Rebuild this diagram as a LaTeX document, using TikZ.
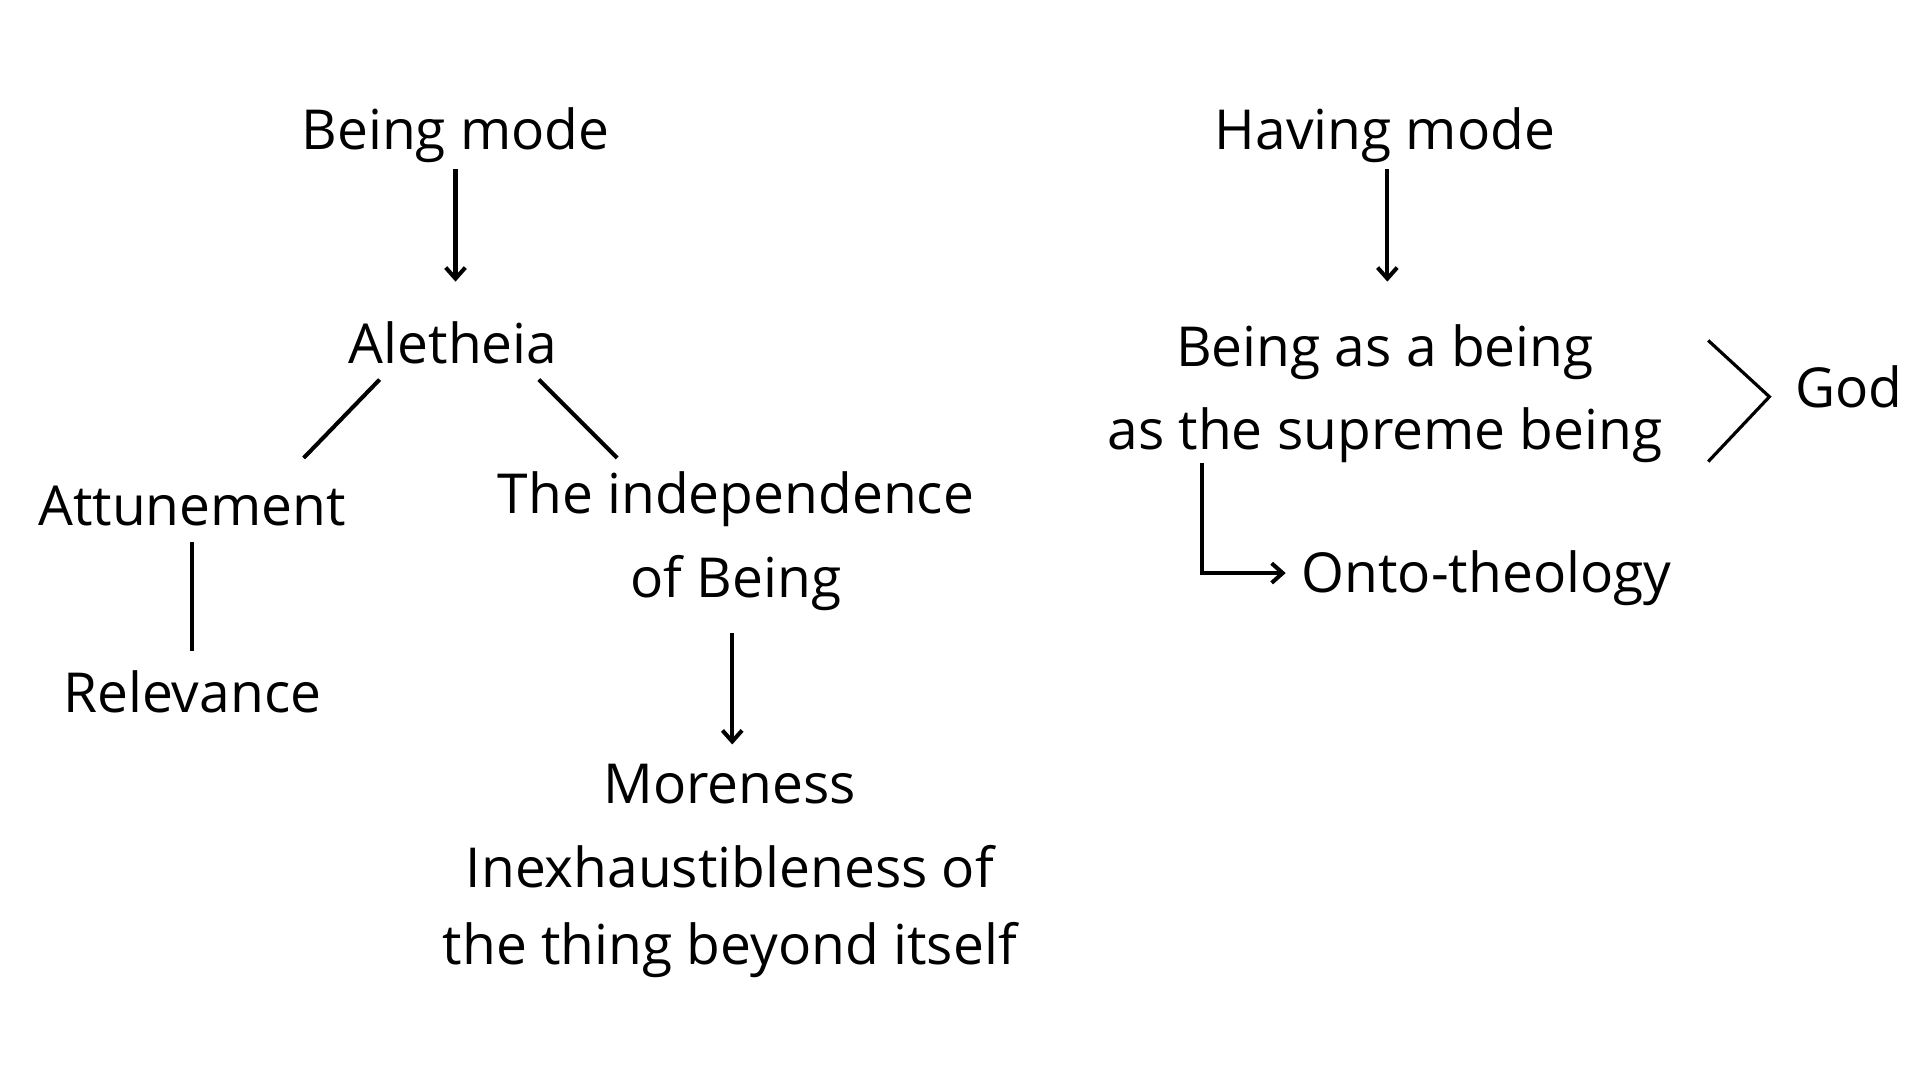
\documentclass[tikz,border=0pt]{standalone}
\usepackage{fontspec}
\setmainfont{Open Sans}
\usetikzlibrary{arrows.meta}
\begin{document}
\begin{tikzpicture}[x=1pt,y=-1pt,
  t/.style={inner sep=0pt,font=\fontsize{45}{54}\selectfont,anchor=center},
  ln/.style={line width=3.3pt},
  ar/.style={ln,-{Straight Barb[length=9pt,width=16pt,line width=3.3pt]}}]
\useasboundingbox (0,0) rectangle (1568,882);
\node[t] (bm) at (372,110) {Being mode};
\node[t] (al) at (370,280) {Aletheia};
\node[t] (at) at (157,413) {Attunement};
\node[t] (re) at (157,565) {Relevance};
\node[t] (ti1) at (601,408) {The independence};
\node[t] (ti2) at (601,476) {of Being};
\node[t] (mo1) at (596,640) {Moreness};
\node[t] (mo2) at (596,708) {Inexhaustibleness of};
\node[t] (mo3) at (596,776) {the thing beyond itself};
\node[t] (hm) at (1131,110) {Having mode};
\node[t] (ba1) at (1131,288) {Being as a being};
\node[t] (ba2) at (1131,355) {as the supreme being};
\node[t] (god) at (1510,316) {God};
\node[t] (ot) at (1214,472) {Onto-theology};
\coordinate (c1) at (372,138); \coordinate (c2) at (372,230);
\draw[ar] (c1) -- (c2);
\coordinate (d1) at (310,310); \coordinate (d2) at (248,374);
\draw[ln] (d1) -- (d2);
\coordinate (e1) at (440,310); \coordinate (e2) at (504,374);
\draw[ln] (e1) -- (e2);
\coordinate (f1) at (157,443); \coordinate (f2) at (157,532);
\draw[ln] (f1) -- (f2);
\coordinate (g1) at (598,517); \coordinate (g2) at (598,608);
\draw[ar] (g1) -- (g2);
\coordinate (h1) at (1133,138); \coordinate (h2) at (1133,230);
\draw[ar] (h1) -- (h2);
\coordinate (k1) at (1395,278); \coordinate (k2) at (1445,324); \coordinate (k3) at (1395,377);
\draw[line width=2.6pt] (k1) -- (k2) -- (k3);
\coordinate (m1) at (982,378); \coordinate (m2) at (1050,468);
\draw[ar] (m1) |- (m2);
\end{tikzpicture}
\end{document}
